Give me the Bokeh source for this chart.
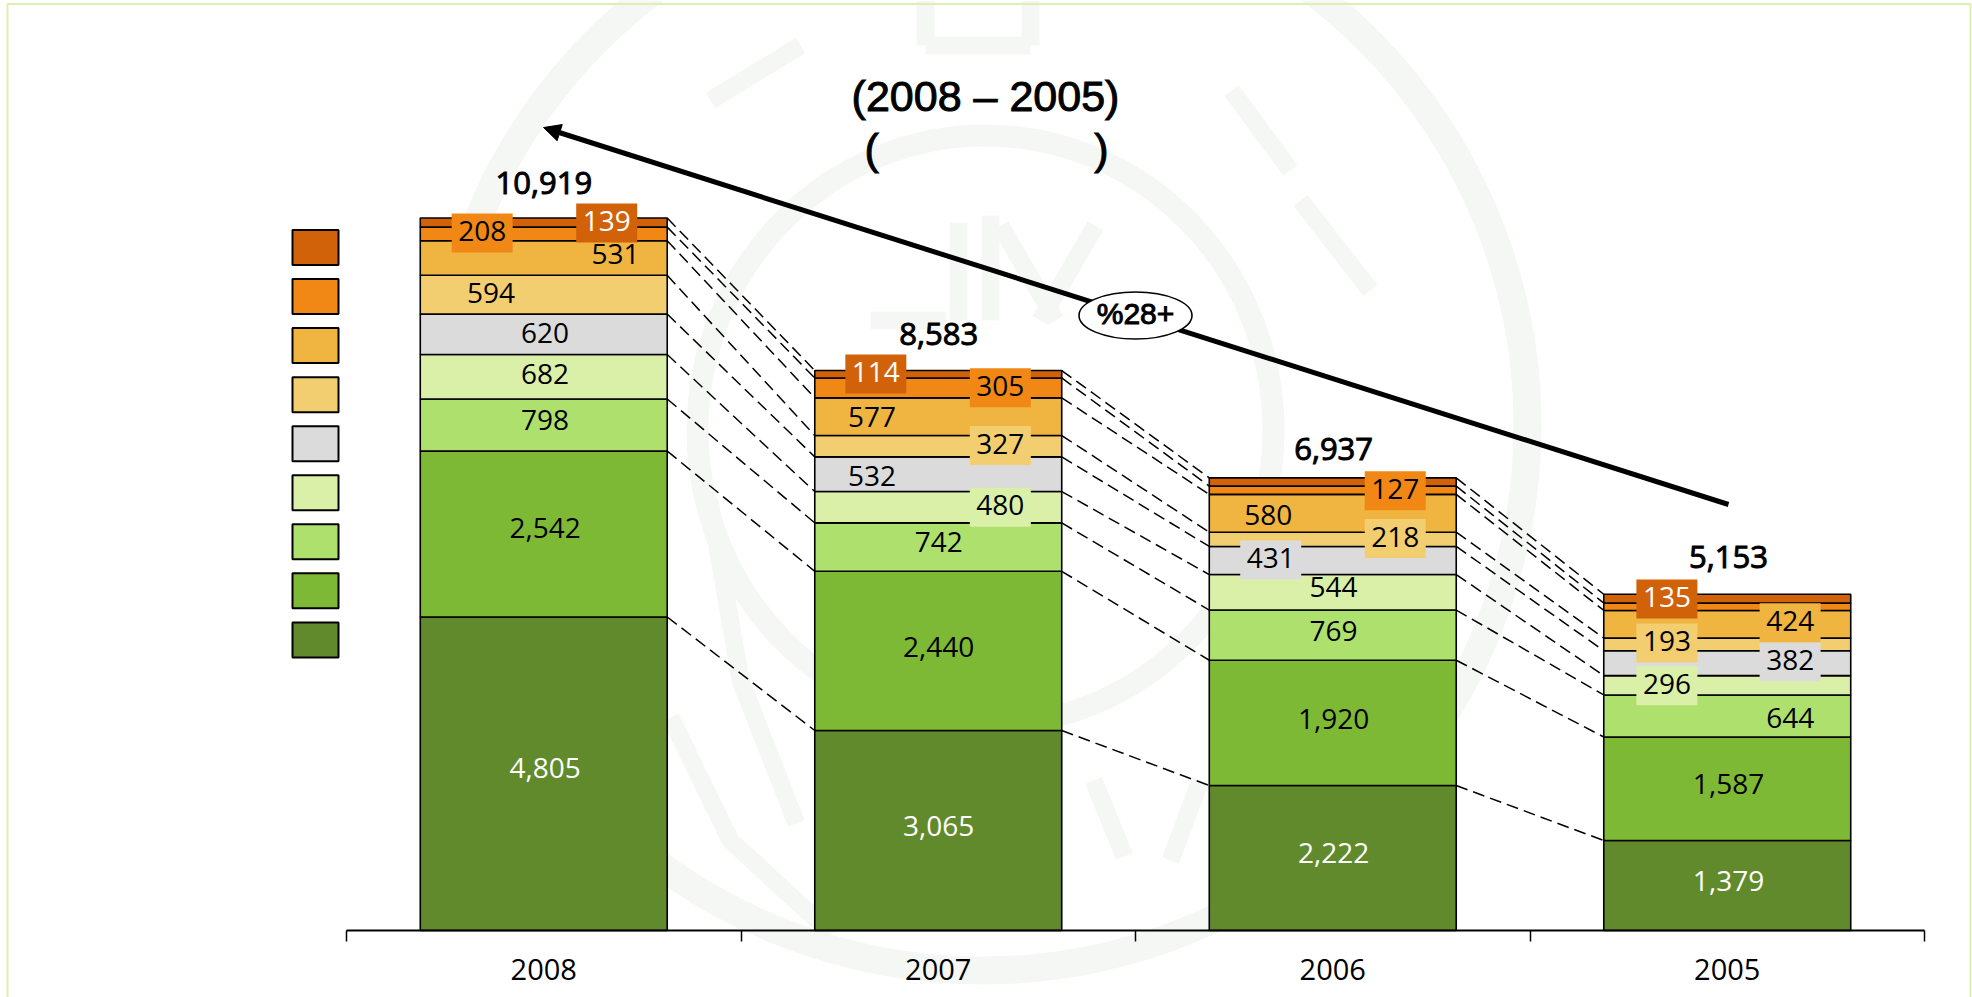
import numpy as np
from bokeh.core.properties import value
from bokeh.embed import file_html
from bokeh.models import Arrow, FixedTicker, LinearAxis, NormalHead, Range1d
from bokeh.plotting import figure
from bokeh.resources import INLINE

# ---- data (bottom of stack first) ----
years = ["2008", "2007", "2006", "2005"]
totals = [10919, 8583, 6937, 5153]
s1 = [4805, 3065, 2222, 1379]
s2 = [2542, 2440, 1920, 1587]
s3 = [798, 742, 769, 644]
s4 = [682, 480, 544, 296]
s5 = [620, 532, 431, 382]
s6 = [594, 327, 218, 193]
s7 = [531, 577, 580, 424]
s8 = [208, 305, 127, 113]
s9 = [139, 114, 126, 135]
series = [s1, s2, s3, s4, s5, s6, s7, s8, s9]
colors = ["#618A2C", "#7EB935", "#AEE06D", "#DAF0A9", "#DBDBDB",
          "#F2CE70", "#EFB540", "#F18815", "#D1620A"]
white_series = {0, 8}

# ---- layout ----
W, H = 1972, 997
PX_PER_UNIT = 0.06525
AXIS_LEFT, SLOT, BASE = 346.0, 394.5, 930.0
BAR_W = 0.626
SX, SY = 1972 / 1568, 997 / 793
TEXT_LIFT = 2


def X(px):
    return (px - AXIS_LEFT) / SLOT


def Y(py):
    return (BASE - py) / PX_PER_UNIT


# label centres in the shrunk picture: (x, y, boxed); None = no label shown
label_pos = {
    0: [(433, 612, 0), (433, 421, 0), (433, 335, 0), (433, 299, 0), (433, 266, 0),
        (390, 234, 0), (489, 203, 0), (383, 185, 1), (482, 177, 1)],
    1: [(746, 658, 0), (746, 516, 0), (746, 432, 0), (795, 403, 1), (693, 380, 0),
        (795, 354, 1), (693, 333, 0), (795, 308, 1), (696, 297, 1)],
    2: [(1060, 680, 0), (1060, 573, 0), (1060, 503, 0), (1060, 468, 0), (1010, 445, 1),
        (1109, 428, 1), (1008, 411, 0), (1109, 390, 1), None],
    3: [(1374, 702, 0), (1374, 625, 0), (1423, 572, 0), (1325, 545, 1), (1423, 526, 1),
        (1325, 511, 1), (1423, 495, 1), None, (1325, 476, 1)],
}
total_y = [145, 265, 357, 443]
total_x = [432, 746, 1060, 1374]

p = figure(width=W, height=H, x_range=Range1d(X(0), X(W)), y_range=Range1d(Y(H), Y(0)),
           x_axis_type=None, y_axis_type=None, toolbar_location=None,
           output_backend="svg", min_border=0, outline_line_color=None,
           background_fill_color="white", margin=(0, 0, 0, 0))

# ---- page frame ----
p.line([X(7), X(7), X(1970), X(1970)], [Y(H), Y(3.5), Y(3.5), Y(H)],
       line_color="#DDF0B3", line_width=2)

# ---- faint seal behind the chart ----
WM = "#F5F7F5"
r = p.ellipse([X(982)], [Y(425)], width=[1090], height=[1090], width_units="screen",
              height_units="screen", fill_color=None, line_color=WM, line_width=28)
r.level = "image"
r = p.ellipse([X(985)], [Y(430)], width=[576], height=[590], width_units="screen",
              height_units="screen", fill_color=None, line_color=WM, line_width=22)
r.level = "image"
wm_strokes = [
    ([958, 958], [222, 320]), ([990, 990], [215, 320]), ([1000, 1055], [225, 320]),
    ([1095, 1040], [225, 320]), ([870, 945], [320, 320]), ([925, 925], [45, 0]),
    ([1030, 1030], [45, 0]), ([925, 1030], [45, 45]), ([1231, 1290], [90, 170]),
    ([1300, 1370], [200, 290]), ([710, 800], [100, 45]),
    ([1093, 1124], [780, 856]), ([1200, 1170], [780, 860]),
    ([670, 730, 831], [717, 840, 933]), ([709, 740, 796], [500, 680, 823]),
]
for xs, ys in wm_strokes:
    r = p.line([X(v) for v in xs], [Y(v) for v in ys], line_color=WM, line_width=18)
    r.level = "image"

# ---- trend arrow ----
arrow = Arrow(end=NormalHead(size=17, fill_color="black", line_color="black"),
              x_start=X(1728), y_start=Y(504), x_end=X(543), y_end=Y(127),
              line_color="black", line_width=5, level="underlay")
p.add_layout(arrow)

# ---- stacked bars ----
xc = np.arange(len(years)) + 0.5
cum = np.zeros(len(years))
tops = []
for vals, col in zip(series, colors):
    vals = np.array(vals, dtype=float)
    p.vbar(x=xc, width=BAR_W, bottom=cum, top=cum + vals, fill_color=col,
           line_color="black", line_width=1.6)
    cum = cum + vals
    tops.append(cum.copy())

# ---- connectors ----
for top in tops:
    p.segment(x0=xc[:-1] + BAR_W / 2, y0=top[:-1], x1=xc[1:] - BAR_W / 2, y1=top[1:],
              line_color="black", line_width=1.5, line_dash="12 6")

# ---- segment labels ----
for yi in range(len(years)):
    for si, vals in enumerate(series):
        pos = label_pos[yi][si]
        if pos is None:
            continue
        lx, ly = X(pos[0] * SX), pos[1] * SY
        if pos[2]:
            p.rect([lx], [Y(ly)], width=[61], height=[39], width_units="screen",
                   height_units="screen", fill_color=colors[si], line_color=None)
        p.text([lx], [Y(ly - TEXT_LIFT)], text=[f"{vals[yi]:,}"], text_align="center",
               text_baseline="middle",
               text_color="white" if si in white_series else "black",
               text_font=value("Open Sans"), text_font_size="28px")

# ---- totals ----
for i, t in enumerate(totals):
    p.text([X(total_x[i] * SX)], [Y(total_y[i] * SY)], text=[f"{t:,}"], text_align="center",
           text_baseline="middle", text_color="black", text_font=value("Open Sans"),
           text_font_size="31px", text_outline_color="black")

# ---- legend swatches (their names are absent in the picture) ----
for k, col in enumerate(reversed(colors)):
    p.rect([X(315)], [Y(247 + 49.05 * k)], width=[46], height=[35], width_units="screen",
           height_units="screen", fill_color=col, line_color="black", line_width=2)

# ---- heading ----
HEAD = dict(text_baseline="middle", text_color="black", text_outline_color="black",
            text_font=value("Liberation Sans"), text_font_size="43px")
p.text([X(985)], [Y(95)], text=["(2008 \u2013 2005)"], text_align="center", **HEAD)
p.text([X(864)], [Y(148)], text=["("], text_align="left", **HEAD)
p.text([X(1108)], [Y(148)], text=[")"], text_align="right", **HEAD)

# ---- growth oval ----
p.ellipse([X(1135)], [Y(315)], width=[113], height=[47], width_units="screen",
          height_units="screen", fill_color="white", line_color="black", line_width=1.6)
p.text([X(1135)], [Y(313)], text=["%28+"], text_align="center", text_baseline="middle",
       text_color="black", text_font=value("Liberation Sans"), text_font_size="30px",
       text_outline_color="black")

# ---- category axis, ticks between the categories ----
axis = LinearAxis(fixed_location=0, bounds=(0, len(years)),
                  ticker=FixedTicker(ticks=list(xc), minor_ticks=list(range(len(years) + 1))))
axis.major_label_overrides = {float(c): y for c, y in zip(xc, years)}
axis.axis_line_color = "black"
axis.axis_line_width = 2
axis.major_tick_line_color = None
axis.major_tick_in = 0
axis.major_tick_out = 0
axis.minor_tick_line_color = "black"
axis.minor_tick_line_width = 1.5
axis.minor_tick_in = 0
axis.minor_tick_out = 11
axis.major_label_standoff = 17
axis.major_label_text_font = "Open Sans"
axis.major_label_text_font_size = "29px"
axis.major_label_text_color = "black"
p.add_layout(axis, "below")

open("out.html", "w").write(file_html(p, INLINE))
